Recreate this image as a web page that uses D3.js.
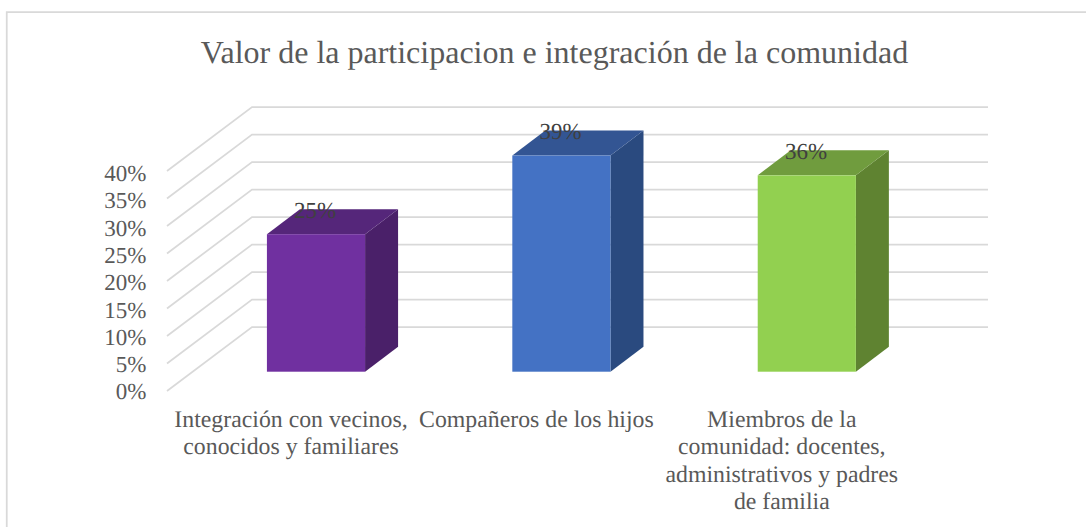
<!DOCTYPE html>
<html>
<head>
<meta charset="utf-8">
<script src="https://cdn.jsdelivr.net/npm/d3@7"></script>
<style>
  body { margin: 0; background: #fff; }
  text { font-family: "Liberation Serif", serif; fill: #595959; text-rendering: geometricPrecision; }
  .grid { stroke: #d9d9d9; stroke-width: 1.75; fill: none; }
  .tick text { font-size: 23px; fill: #595959; font-family: "Liberation Serif", serif; }
</style>
</head>
<body>
<svg id="chart" style="display:block"></svg>
<script>
const categories = ['Integración con vecinos, conocidos y familiares', 'Compañeros de los hijos', 'Miembros de la comunidad: docentes, administrativos y padres de familia'];
const values = [25, 39.3, 35.7];
const labels = ['25%', '39%', '36%'];
// manual line breaks, same order as categories
const categoryLines = [
  ['Integración con vecinos,', 'conocidos y familiares'],
  ['Compañeros de los hijos'],
  ['Miembros de la', 'comunidad: docentes,', 'administrativos y padres', 'de familia'],
];
const yTicks = [0, 5, 10, 15, 20, 25, 30, 35, 40];
const frontColors = ['#7030a0', '#4472c4', '#92d050'];
const topColors = ['#55267a', '#335593', '#709c3e'];
const sideColors = ['#4a2069', '#2a4a7f', '#5f8331'];

const width = 1086;
const height = 527;

const svg = d3.select('#chart').attr('width', width).attr('height', height);

// chart frame, right and bottom edges are cropped in the original
svg.append('path')
  .attr('class', 'grid')
  .attr('d', 'M6.75,527V12H1086');

svg.append('text')
  .attr('x', 554.5)
  .attr('y', 63)
  .attr('text-anchor', 'middle')
  .style('font-size', '32px')
  .text('Valor de la participacion e integración de la comunidad');

// front edge of the floor
const yScale = d3.scaleLinear().domain([0, 40]).range([391, 171]);
// axis labels are spaced slightly tighter than the gridlines
const yLabelScale = d3.scaleLinear().domain([0, 40]).range([391.6, 173.3]);

const xScale = d3.scaleBand()
  .domain(categories)
  .range([193.3, 929.5])
  .paddingInner(0.6)
  .paddingOuter(0.3);

// 3d offsets: side wall and bar depth
const wall = { x0: 167, dx: 85, dy: -64, x1: 988 };
const barDepth = { dx: 33, dy: -25 };
const barShift = -19.3; // bars stand a little behind the front edge

// side wall and back wall gridlines
svg.append('g').selectAll('path')
  .data(yTicks)
  .join('path')
  .attr('class', 'grid')
  .attr('d', (d) => {
    const y = yScale(d);
    return `M${wall.x0},${y}L${wall.x0 + wall.dx},${y + wall.dy}H${wall.x1}`;
  });

const yAxis = d3.axisLeft(yLabelScale)
  .tickValues(yTicks)
  .tickFormat((d) => `${d}%`)
  .tickSize(0)
  .tickPadding(0);

svg.append('g')
  .attr('transform', 'translate(146.5,0)')
  .call(yAxis)
  .call((g) => g.select('.domain').remove());

// bars
const bars = svg.selectAll('.bar')
  .data(categories)
  .join('g')
  .attr('class', 'bar');

const x0 = (d) => xScale(d);
const x1 = (d) => xScale(d) + xScale.bandwidth();
const yBase = yScale(0) + barShift;
const yTop = (i) => yScale(values[i]) + barShift;

bars.append('path')
  .attr('fill', (d, i) => sideColors[i])
  .attr('d', (d, i) => `M${x1(d)},${yBase}V${yTop(i)}l${barDepth.dx},${barDepth.dy}V${yBase + barDepth.dy}Z`);

bars.append('path')
  .attr('fill', (d, i) => topColors[i])
  .attr('d', (d, i) => `M${x0(d)},${yTop(i)}H${x1(d)}l${barDepth.dx},${barDepth.dy}H${x0(d) + barDepth.dx}Z`);

bars.append('rect')
  .attr('fill', (d, i) => frontColors[i])
  .attr('x', (d) => x0(d))
  .attr('y', (d, i) => yTop(i))
  .attr('width', xScale.bandwidth())
  .attr('height', (d, i) => yBase - yTop(i));

// data labels
bars.append('text')
  .attr('x', (d) => x0(d) + xScale.bandwidth() / 2 - 0.8)
  .attr('y', (d, i) => yTop(i) - 16.3)
  .attr('text-anchor', 'middle')
  .style('font-size', '23px')
  .style('fill', '#404040')
  .text((d, i) => labels[i]);

// category labels
const catLabels = svg.append('g').selectAll('text')
  .data(categories)
  .join('text')
  .attr('text-anchor', 'middle')
  .style('font-size', '23.8px');

catLabels.selectAll('tspan')
  .data((d, i) => categoryLines[i].map((line) => ({ line, d })))
  .join('tspan')
  .attr('x', (t) => x0(t.d) + xScale.bandwidth() / 2 - 25)
  .attr('y', (t, j) => 426.5 + j * 27.5)
  .text((t) => t.line);
</script>
</body>
</html>
